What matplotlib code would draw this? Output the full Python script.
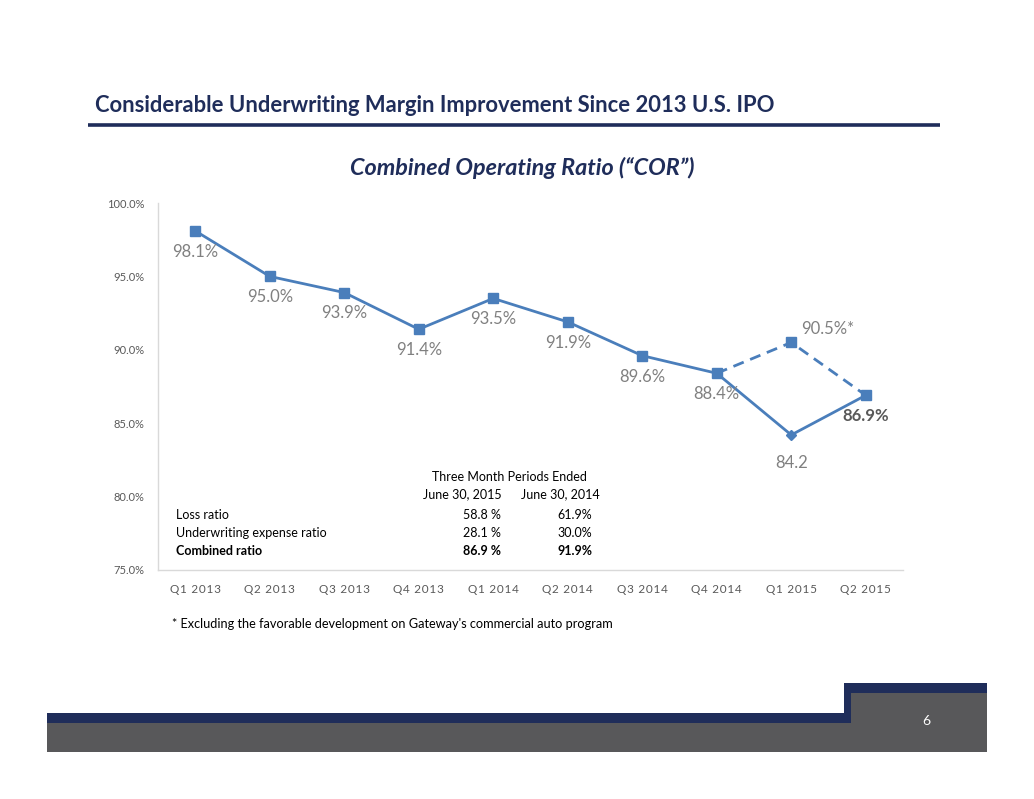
import matplotlib.pyplot as plt
from matplotlib.patches import Rectangle

quarters = ["Q1 2013", "Q2 2013", "Q3 2013", "Q4 2013", "Q1 2014",
            "Q2 2014", "Q3 2014", "Q4 2014", "Q1 2015", "Q2 2015"]
cor = [98.1, 95.0, 93.9, 91.4, 93.5, 91.9, 89.6, 88.4, 84.2, 86.9]
cor_labels = ["98.1%", "95.0%", "93.9%", "91.4%", "93.5%",
              "91.9%", "89.6%", "88.4%", "84.2", "86.9%"]
# excluding the Gateway favorable development
adj_idx = [7, 8, 9]
adj_cor = [88.4, 90.5, 86.9]
adj_label = "90.5%*"

yticks = [75, 80, 85, 90, 95, 100]

table_rows = ["Loss ratio", "Underwriting expense ratio", "Combined ratio"]
col_2015 = ["58.8 %", "28.1 %", "86.9 %"]
col_2014 = ["61.9%", "30.0%", "91.9%"]

NAVY = "#1F2D5A"
BLUE = "#4A7EBB"
GREY_LBL = "#808080"
FONT = ["Lato", "DejaVu Sans"]

plt.rcParams["font.family"] = FONT


def spaced(s):
    # excel draws the category axis with extra character spacing
    return "\u200a".join(s)


W, H = 1034, 799
fig = plt.figure(figsize=(W / 100, H / 100), dpi=100)

# page decoration layer in pixel coords
bg = fig.add_axes([0, 0, 1, 1], zorder=0)
bg.set_xlim(0, W)
bg.set_ylim(H, 0)
bg.axis("off")
bg.text(95, 105, "Considerable Underwriting Margin Improvement Since 2013 U.S. IPO",
        fontsize=15.8, fontweight="bold", color=NAVY, va="center", ha="left")
bg.plot([88, 940], [125, 125], color=NAVY, lw=2.6, solid_capstyle="butt")
bg.text(522, 168, "Combined Operating Ratio (\u201cCOR\u201d)", fontsize=16.8,
        fontweight="bold", fontstyle="italic", color=NAVY, ha="center", va="center")
# footer bars
bg.add_patch(Rectangle((47, 722), 940, 30, color="#58585A", lw=0))
bg.add_patch(Rectangle((47, 713), 804, 10, color=NAVY, lw=0))
bg.add_patch(Rectangle((844, 683), 143, 40, color="#58585A", lw=0))
bg.add_patch(Rectangle((844, 683), 143, 10, color=NAVY, lw=0))
bg.add_patch(Rectangle((844, 683), 7, 40, color=NAVY, lw=0))
bg.text(926, 721, "6", color="white", fontsize=10, ha="center", va="center")

bg.text(172, 624, "* Excluding the favorable development on Gateway's commercial auto program",
        fontsize=9.2, color="black", va="center", ha="left")

# chart
ax = fig.add_axes([158 / W, 1 - 570 / H, (903 - 158) / W, (570 - 203) / H], zorder=1)
ax.patch.set_alpha(0)
x = list(range(len(quarters)))
ax.plot(x, cor, color=BLUE, lw=2, zorder=3)
ax.plot(adj_idx, adj_cor, color=BLUE, lw=2, ls=(0, (4, 2.5)), zorder=3)
sq_x = [i for i in x if i != 8]
ax.plot(sq_x, [cor[i] for i in sq_x], ls="none", marker="s", ms=6.5,
        color=BLUE, zorder=4)
ax.plot([8], [cor[8]], ls="none", marker="D", ms=5.5, color=BLUE, zorder=4)
ax.plot([adj_idx[1]], [adj_cor[1]], ls="none", marker="s", ms=6.5, color=BLUE, zorder=4)

for i, (v, lab) in enumerate(zip(cor, cor_labels)):
    dy = -20 if i == 8 else -15
    bold = i == 9
    ax.annotate(lab, (i, v), xytext=(0, dy), textcoords="offset points",
                ha="center", va="center", fontsize=12,
                color="#595959" if bold else GREY_LBL,
                fontweight="bold" if bold else "normal")
ax.annotate(adj_label, (adj_idx[1], adj_cor[1]), xytext=(26, 10),
            textcoords="offset points", ha="center", va="center",
            fontsize=12, color=GREY_LBL)

ax.set_xlim(-0.5, len(quarters) - 0.5)
ax.set_ylim(75, 100)
ax.set_yticks(yticks)
ax.set_yticklabels([f"{t:.1f}%" for t in yticks])
ax.set_xticks(x)
ax.set_xticklabels([spaced(q) for q in quarters])
ax.tick_params(axis="y", length=0, labelsize=8, labelcolor="#595959", pad=10)
ax.tick_params(axis="x", length=0, labelsize=8.5, labelcolor="#595959", pad=10)
for side in ["top", "right"]:
    ax.spines[side].set_visible(False)
for side in ["left", "bottom"]:
    ax.spines[side].set_color("#D9D9D9")
    ax.spines[side].set_linewidth(1)

# small table inside chart area, pixel coords via bg
tfs = 9
bg.text(509, 477, "Three Month Periods Ended", fontsize=tfs, ha="center", va="center", zorder=5)
bg.text(462, 494, "June 30, 2015", fontsize=tfs, ha="center", va="center", zorder=5)
bg.text(560, 494, "June 30, 2014", fontsize=tfs, ha="center", va="center", zorder=5)
for r, (name, a, b) in enumerate(zip(table_rows, col_2015, col_2014)):
    yy = 515 + 18 * r
    w = "bold" if r == 2 else "normal"
    bg.text(176, yy, name, fontsize=tfs, ha="left", va="center", fontweight=w)
    bg.text(501, yy, a, fontsize=tfs, ha="right", va="center", fontweight=w)
    bg.text(592, yy, b, fontsize=tfs, ha="right", va="center", fontweight=w)

fig.savefig("out.png", dpi=100)
